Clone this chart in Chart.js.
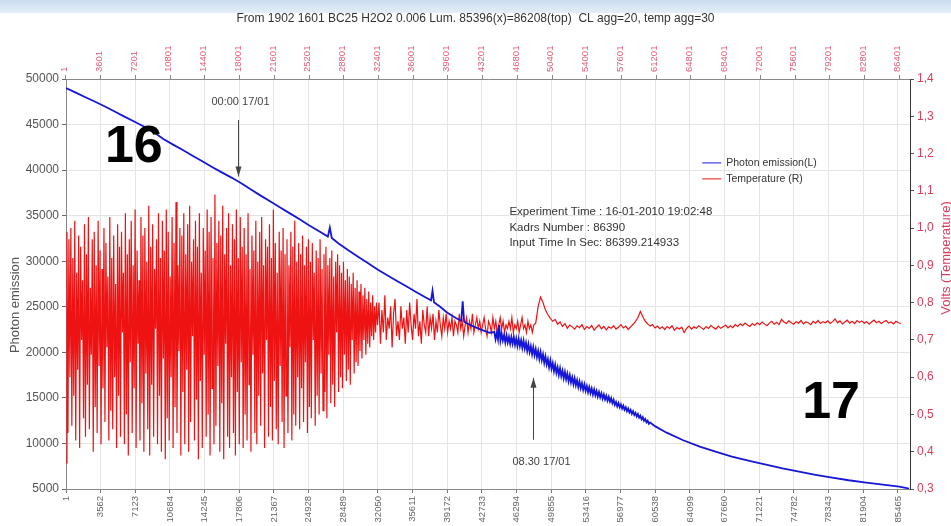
<!DOCTYPE html>
<html><head><meta charset="utf-8">
<script src="https://cdn.jsdelivr.net/npm/chart.js@4/dist/chart.umd.min.js"></script>
<style>
html,body{margin:0;padding:0;background:#fff;}
#wrap{position:relative;width:951px;height:526px;overflow:hidden;background:#fff;}
#band{position:absolute;left:0;top:0;width:951px;height:13px;background:linear-gradient(#c9dcef,#e4eef8);}
canvas{position:absolute;left:0;top:0;}
</style></head><body>
<div id="wrap"><div id="band"></div><canvas id="c" width="951" height="526"></canvas></div>
<script>
// ---------- DATA ----------
const chartTitle = 'From 1902 1601 BC25 H2O2 0.006 Lum. 85396(x)=86208(top)  CL agg=20, temp agg=30';
const infoLines = ['Experiment Time : 16-01-2010 19:02:48', 'Kadrs Number : 86390', 'Input Time In Sec: 86399.214933'];
const leftTitle = 'Photon emission';
const rightTitle = 'Volts (Temperature)';
const seriesNames = ['Photon emission(L)', 'Temperature (R)'];

const bottomTicks = [1,3562,7123,10684,14245,17806,21367,24928,28489,32050,35611,39172,42733,46294,49855,53416,56977,60538,64099,67660,71221,74782,78343,81904,85465];
const topTicks = [1,3601,7201,10801,14401,18001,21601,25201,28801,32401,36001,39601,43201,46801,50401,54001,57601,61201,64801,68401,72001,75601,79201,82801,86401];
const leftTicks = [5000,10000,15000,20000,25000,30000,35000,40000,45000,50000];
const rightTicks = [0.3,0.4,0.5,0.6,0.7,0.8,0.9,1.0,1.1,1.2,1.3,1.4];
const frameMax = 86698;
const topPerFrame = 86208 / 85396;

// Photon emission (left axis): frame -> counts
const photonFramesA = [1,1000,2000,3000,4000,5000,6000,7000,8000,9000,10000,11000,12000,13000,14000,15000,16000,17000,18000,19000,20000,21000,22000,23000,24000,25000,26000,26900,27100,27300,28000,29000,30000,31000,32000,33000,34000,35000,36000,37000,37500,37650,37800,38500,39100,40000,40600,40750,40900,41500,42500,43500];
const photonCountsA = [49013,48500,48000,47500,46980,46430,45870,45330,44780,44180,43420,42800,42200,41580,40980,40350,39750,39180,38550,37880,37200,36560,35900,35250,34600,33930,33300,32700,33700,32550,31950,31200,30500,29800,29100,28450,27820,27220,26600,26000,25700,26750,25500,24950,24400,23800,23450,25600,23350,23000,22550,22150];
const photonNoisyStart = 44000, photonNoisyStep = 125;
const photonNoisy = [
22230,21440,22100,21410,23000,21300,22060,21300,21890,21095,21870,21075,21690,20940,21680,20945,
21670,20820,21510,20705,21480,20665,21320,20500,21280,20415,21040,20160,20890,20030,20660,19805,
20570,19705,20360,19480,20150,19280,20030,19140,19770,18855,19560,18675,19240,18360,19100,18205,
18810,17930,18630,17745,18350,17515,18240,17390,17980,17160,17860,17045,17650,16830,17500,16705,
17270,16500,17150,16385,16950,16190,16800,16070,16600,15885,16480,15775,16290,15615,16180,15530,
16030,15385,15920,15290,15760,15145,15650,15060,15500,14915,15380,14820,15230,14685,15110,14590,
14970,14420,14780,14240,14550,14065,14430,13970,14290,13825,14150,13695,13980,13535,13840,13405,
13670,13245,13530,13115,13360,12955,13220,12825,13050,12650,12880,12495,12690,12310,12500,12155,
12300];
const photonFramesB = [60500,61700,63400,65100,66800,68400,70200,71900,73600,75300,77000,78700,80400,82200,83900,85600,86600];
const photonCountsB = [11900,11180,10350,9650,9080,8550,8080,7680,7270,6910,6560,6250,5960,5700,5470,5260,5050];

// Temperature (right axis, volts), regularly sampled segments
const tempOscStart = 1, tempOscStep = 100;
const tempOsc = [
0.37,0.99,0.45,0.97,0.60,1.00,0.47,0.92,0.55,1.02,
0.43,0.88,0.62,0.98,0.41,0.95,0.70,0.86,0.49,1.01,
0.44,0.93,0.58,1.03,0.46,0.84,0.66,0.97,0.40,0.99,
0.52,0.90,0.45,1.02,0.63,0.94,0.42,0.89,0.57,1.00,
0.48,0.96,0.68,0.87,0.43,1.03,0.51,0.92,0.46,0.98,
0.60,0.85,0.41,1.01,0.55,0.95,0.44,0.99,0.72,0.88,
0.42,1.04,0.50,0.93,0.39,0.97,0.64,1.02,0.45,0.90,
0.57,1.05,0.41,0.94,0.69,0.86,0.43,1.03,0.53,0.98,
0.40,1.00,0.61,0.91,0.46,1.06,0.39,0.95,0.58,1.01,
0.44,0.89,0.73,0.97,0.42,1.04,0.55,0.92,0.40,1.02,
0.65,0.94,0.38,1.05,0.49,0.99,0.43,0.87,0.60,1.03,
0.41,0.96,0.52,1.07,0.45,0.90,0.67,1.00,0.39,0.98,
0.56,1.04,0.42,0.93,0.62,1.01,0.40,1.06,0.48,0.91,
0.71,0.97,0.43,1.02,0.54,0.95,0.38,1.04,0.59,0.88,
0.41,1.00,0.66,0.94,0.44,1.05,0.50,0.99,0.39,1.03,
0.57,0.92,0.42,1.09,0.47,0.96,0.63,1.02,0.40,0.98,
0.53,1.06,0.38,0.93,0.69,1.00,0.44,1.04,0.41,0.90,
0.60,1.01,0.45,0.97,0.39,1.05,0.56,0.92,0.42,1.03,
0.64,0.95,0.41,1.00,0.50,0.93,0.43,1.04,0.58,0.89,
0.40,0.98,0.66,0.94,0.45,1.02,0.42,0.91,0.55,0.99,
0.47,1.03,0.61,0.90,0.41,0.97,0.70,0.95,0.44,1.01,
0.52,0.92,0.43,1.05,0.59,0.96,0.46,0.88,0.42,0.99,
0.63,0.94,0.48,1.00,0.41,0.93,0.55,0.97,0.45,0.90,
0.68,0.99,0.43,0.95,0.50,1.02,0.47,0.91,0.60,0.96,
0.46,0.93,0.57,0.98,0.48,0.90,0.64,0.95,0.45,0.97,
0.52,0.91,0.49,0.96,0.70,0.88,0.47,0.94,0.55,0.92,
0.50,0.97,0.61,0.89,0.51,0.93,0.56,0.95,0.49,0.90,
0.66,0.92,0.53,0.94,0.58,0.87,0.52,0.91,0.72,0.93,
0.56,0.90,0.60,0.88,0.57,0.91,0.66,0.86,0.59,0.89,
0.62,0.87,0.58,0.85,0.70,0.88,0.61,0.84,0.64,0.86,
0.63,0.83,0.67,0.85,0.65,0.82,0.70,0.84,0.66,0.81,
0.69,0.83,0.68,0.80,0.71,0.82,0.70,0.79,0.72,0.80];
const tempMidStart = 32001, tempMidStep = 150;
const tempMid = [
0.74,0.80,0.69,0.78,0.72,0.82,0.70,0.76,0.73,0.79,
0.68,0.77,0.81,0.71,0.75,0.70,0.79,0.73,0.76,0.69,
0.78,0.72,0.80,0.74,0.70,0.77,0.73,0.81,0.71,0.75,
0.69,0.78,0.74,0.72,0.79,0.71,0.76,0.73,0.77,0.70,
0.75,0.72,0.78,0.74,0.71,0.76,0.73,0.77,0.72,0.75,
0.73,0.76,0.71,0.75,0.74,0.72,0.77,0.73,0.75,0.71,
0.74,0.76,0.72,0.75,0.73,0.77,0.72,0.74,0.76,0.73,
0.75,0.72,0.74,0.76,0.73,0.71,0.75,0.74,0.72,0.76,
0.73,0.75,0.72,0.74,0.76,0.73,0.75,0.72,0.74,0.73,
0.75,0.73,0.76,0.72,0.74,0.73,0.75,0.72,0.74,0.76,
0.73,0.74,0.72,0.75,0.73,0.74,0.72,0.74];
const tempTailStart = 48251, tempTailStep = 250;
const tempTail = [
0.745,0.790,0.815,0.800,0.780,0.768,0.758,0.750,0.755,0.742,
0.748,0.736,0.744,0.731,0.740,0.735,0.729,0.738,0.733,0.741,
0.728,0.736,0.731,0.739,0.726,0.734,0.740,0.730,0.736,0.727,
0.735,0.731,0.738,0.729,0.734,0.741,0.732,0.737,0.728,0.735,
0.742,0.750,0.760,0.776,0.762,0.750,0.743,0.737,0.741,0.732,
0.737,0.730,0.735,0.728,0.736,0.731,0.738,0.726,0.733,0.729,
0.734,0.720,0.731,0.737,0.729,0.735,0.731,0.738,0.733,0.728,
0.736,0.731,0.739,0.733,0.729,0.737,0.731,0.735,0.740,0.732,
0.738,0.733,0.741,0.736,0.743,0.738,0.745,0.740,0.736,0.744,
0.739,0.746,0.741,0.748,0.743,0.738,0.745,0.750,0.742,0.747,
0.741,0.755,0.748,0.744,0.751,0.746,0.742,0.749,0.745,0.752,
0.743,0.748,0.746,0.741,0.750,0.745,0.752,0.744,0.749,0.746,
0.751,0.744,0.749,0.756,0.746,0.751,0.743,0.748,0.753,0.745,
0.750,0.744,0.752,0.747,0.751,0.745,0.749,0.742,0.748,0.753,
0.746,0.750,0.744,0.749,0.752,0.745,0.748,0.743,0.750,0.746,
0.744];

// Annotations (top axis = seconds)
const annotations = [
  {sec: 17832, text: '00:00 17/01', textVal: 47480, fromVal: 45500, toVal: 39300, dx: 2},
  {sec: 48432, text: '08.30 17/01', textVal: 8000, fromVal: 10400, toVal: 17200, dx: 8}
];
const bigLabels = [
  {text: '16', frame: 4000, val: 40900},
  {text: '17', frame: 75620, val: 12830}
];
// ---------- BUILD ----------
const FONT = '"Liberation Sans", Arial, sans-serif';
const photonPts = [];
photonFramesA.forEach((f,i)=>photonPts.push({x:f, y:photonCountsA[i]}));
photonNoisy.forEach((v,i)=>photonPts.push({x:photonNoisyStart + i*photonNoisyStep, y:v}));
photonFramesB.forEach((f,i)=>photonPts.push({x:f, y:photonCountsB[i]}));
const tempPts = [];
tempOsc.forEach((v,i)=>tempPts.push({x:tempOscStart + i*tempOscStep, y:v}));
tempMid.forEach((v,i)=>tempPts.push({x:tempMidStart + i*tempMidStep, y:v}));
tempTail.forEach((v,i)=>tempPts.push({x:tempTailStart + i*tempTailStep, y:v}));

const BLUE = 'rgb(22,22,215)', RED = 'rgb(238,18,18)';

const extras = {
  id: 'extras',
  afterDraw(chart) {
    const ctx = chart.ctx, S = chart.scales;
    ctx.save();
    ctx.textBaseline = 'middle';
    ctx.fillStyle = '#333'; ctx.font = '12px ' + FONT; ctx.textAlign = 'center';
    ctx.fillText(chartTitle, chart.width/2, 19);
    ctx.save(); ctx.translate(15, 305); ctx.rotate(-Math.PI/2);
    ctx.fillStyle = '#555'; ctx.font = '13px ' + FONT; ctx.fillText(leftTitle, 0, 0); ctx.restore();
    ctx.save(); ctx.translate(946, 258); ctx.rotate(-Math.PI/2);
    ctx.fillStyle = '#d8405e'; ctx.font = '13px ' + FONT; ctx.fillText(rightTitle, 0, 0); ctx.restore();
    ctx.strokeStyle = '#444'; ctx.fillStyle = '#444'; ctx.lineWidth = 1;
    annotations.forEach(a => {
      const x = Math.round(S.x2.getPixelForValue(a.sec)) + 0.5;
      const y0 = S.y.getPixelForValue(a.fromVal), y1 = S.y.getPixelForValue(a.toVal);
      ctx.beginPath(); ctx.moveTo(x, y0); ctx.lineTo(x, y1); ctx.stroke();
      const d = Math.sign(y1 - y0);
      ctx.beginPath(); ctx.moveTo(x, y1); ctx.lineTo(x-3, y1 - d*10); ctx.lineTo(x+3, y1 - d*10); ctx.closePath(); ctx.fill();
      ctx.font = '11px ' + FONT; ctx.textAlign = 'center'; ctx.fillStyle = '#444';
      ctx.fillText(a.text, x + a.dx, S.y.getPixelForValue(a.textVal));
    });
    ctx.fillStyle = '#000'; ctx.font = 'bold 52px ' + FONT; ctx.textAlign = 'left'; ctx.textBaseline = 'alphabetic';
    bigLabels.forEach(b => ctx.fillText(b.text, S.x.getPixelForValue(b.frame), S.y.getPixelForValue(b.val)));
    ctx.textBaseline = 'middle';
    const lx = S.x.getPixelForValue(65360);
    const ly = [S.y.getPixelForValue(40789), S.y.getPixelForValue(39035)];
    chart.data.datasets.forEach((ds, i) => {
      ctx.strokeStyle = ds.borderColor; ctx.lineWidth = 1;
      ctx.beginPath(); ctx.moveTo(lx, ly[i]); ctx.lineTo(lx + 19, ly[i]); ctx.stroke();
      ctx.fillStyle = '#333'; ctx.font = '10.5px ' + FONT; ctx.textAlign = 'left';
      ctx.fillText(ds.label, lx + 24, ly[i]);
    });
    const ix = S.x.getPixelForValue(45550);
    const iy = [35417, 33662, 32018];
    ctx.fillStyle = '#333'; ctx.font = '11.5px ' + FONT;
    infoLines.forEach((t, i) => ctx.fillText(t, ix, S.y.getPixelForValue(iy[i])));
    ctx.restore();
  }
};

const setTicks = arr => s => { s.ticks = arr.map(v => ({value: v})); };

new Chart(document.getElementById('c'), {
  type: 'line',
  data: { datasets: [
    { label: seriesNames[0], data: photonPts, xAxisID: 'x', yAxisID: 'y', borderColor: BLUE, borderWidth: 1.8, pointRadius: 0, tension: 0, fill: false },
    { label: seriesNames[1], data: tempPts, xAxisID: 'x', yAxisID: 'y2', borderColor: RED, borderWidth: 1.2, pointRadius: 0, tension: 0, fill: false }
  ]},
  options: {
    responsive: false, animation: false, devicePixelRatio: 1,
    layout: { padding: 0 },
    plugins: { legend: { display: false }, title: { display: false }, tooltip: { enabled: false } },
    scales: {
      x: { type: 'linear', position: 'bottom', min: 1, max: frameMax,
        afterBuildTicks: setTicks(bottomTicks), afterFit: s => { s.height = 37; },
        ticks: { autoSkip: false, minRotation: 90, maxRotation: 90, color: '#666', padding: 3, font: { size: 9.5, family: FONT }, callback: v => String(v) },
        grid: { color: '#e4e4e4', tickColor: '#777', tickLength: 4 }, border: { color: '#888' } },
      x2: { type: 'linear', position: 'top', min: 1 * topPerFrame, max: frameMax * topPerFrame,
        afterBuildTicks: setTicks(topTicks), afterFit: s => { s.height = 79; },
        ticks: { autoSkip: false, minRotation: 90, maxRotation: 90, labelOffset: 10, color: '#e0607a', padding: 3, font: { size: 9.5, family: FONT }, callback: v => String(v) },
        grid: { drawOnChartArea: false, tickColor: '#888', tickLength: 4 }, border: { color: '#888' } },
      y: { type: 'linear', position: 'left', min: 5000, max: 50000,
        afterBuildTicks: setTicks(leftTicks), afterFit: s => { s.width = 66; },
        ticks: { color: '#555', padding: 3, font: { size: 12, family: FONT }, callback: v => String(v) },
        grid: { color: '#e4e4e4', tickColor: '#666', tickLength: 4 }, border: { color: '#888' } },
      y2: { type: 'linear', position: 'right', min: 0.3, max: 1.4,
        afterBuildTicks: setTicks(rightTicks), afterFit: s => { s.width = 41; },
        ticks: { color: '#d8405e', padding: 3, font: { size: 12, family: FONT }, callback: v => v.toFixed(1).replace('.', ',') },
        grid: { drawOnChartArea: false, tickColor: '#555', tickLength: 4 }, border: { color: '#333' } }
    }
  },
  plugins: [extras]
});
</script>
</body></html>
